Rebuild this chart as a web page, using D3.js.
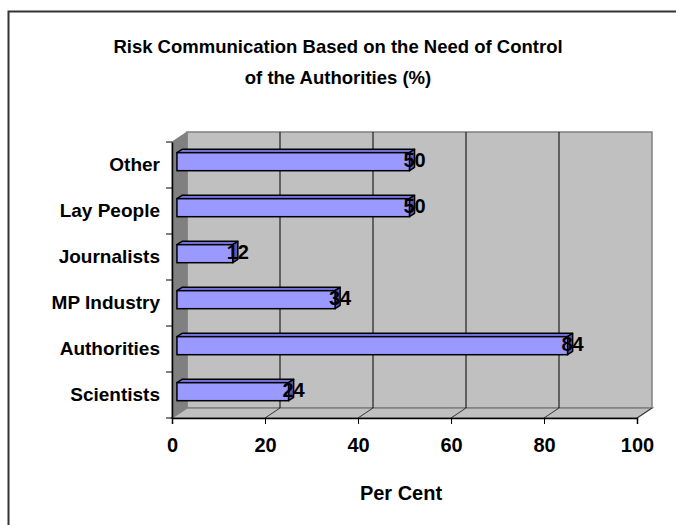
<!DOCTYPE html>
<html>
<head>
<meta charset="utf-8">
<script src="https://cdn.jsdelivr.net/npm/d3@7"></script>
<style>
  body { margin: 0; background: #fff; }
  text { font-family: Arial, "Liberation Sans", sans-serif; font-weight: bold; fill: #000; }
</style>
</head>
<body>
<div id="chart"></div>
<script>
// data
const categories = ["Scientists", "Authorities", "MP Industry", "Journalists", "Lay People", "Other"];
const values = [24, 84, 34, 12, 50, 50];
const xTicks = [0, 20, 40, 60, 80, 100];
const titleLines = ["Risk Communication Based on the Need of Control", "of the Authorities (%)"];
const xTitle = "Per Cent";

const width = 676, height = 525;
// 3d depth offset
const depth = { dx: 15, dy: -10 };
const font = "Arial, 'Liberation Sans', sans-serif";

const svg = d3.select("#chart").append("svg")
  .attr("width", width)
  .attr("height", height);

// outer frame
svg.append("path")
  .attr("d", `M8.5,${height} V11.5 H${width}`)
  .attr("fill", "none")
  .attr("stroke", "#333")
  .attr("stroke-width", 2);

const x = d3.scaleLinear().domain([0, 100]).range([172, 637]);
const y = d3.scaleBand().domain(categories.slice().reverse()).range([142, 418]).padding(0);

const x0 = x(0), x1 = x(100), yTop = y.range()[0], yBot = y.range()[1];
const dx = depth.dx, dy = depth.dy;

// back wall
svg.append("rect")
  .attr("x", x0 + dx).attr("y", yTop + dy)
  .attr("width", x1 - x0).attr("height", yBot - yTop)
  .attr("fill", "#c0c0c0").attr("stroke", "#808080").attr("stroke-width", 1.5);

// left wall
svg.append("polygon")
  .attr("points", [[x0, yTop], [x0 + dx, yTop + dy], [x0 + dx, yBot + dy], [x0, yBot]].join(" "))
  .attr("fill", "#808080").attr("stroke", "#808080");

// floor
svg.append("polygon")
  .attr("points", [[x0, yBot], [x0 + dx, yBot + dy], [x1 + dx, yBot + dy], [x1, yBot]].join(" "))
  .attr("fill", "#c0c0c0").attr("stroke", "#808080").attr("stroke-width", 1.5);

// gridlines on the back wall and the floor
const inner = xTicks.filter(d => d > 0 && d < 100);
svg.append("g").selectAll("line")
  .data(inner).join("line")
  .attr("x1", d => x(d) + dx).attr("x2", d => x(d) + dx)
  .attr("y1", yTop + dy).attr("y2", yBot + dy)
  .attr("stroke", "#000").attr("stroke-width", 1);
svg.append("g").selectAll("line")
  .data(xTicks.filter(d => d > 0)).join("line")
  .attr("x1", d => x(d)).attr("x2", d => x(d) + dx)
  .attr("y1", yBot).attr("y2", yBot + dy)
  .attr("stroke", "#333").attr("stroke-width", 1);

// axes
const xAxis = svg.append("g")
  .attr("transform", `translate(0,${yBot})`)
  .call(d3.axisBottom(x).tickValues(xTicks).tickSize(6).tickPadding(14));
xAxis.select(".domain").attr("stroke", "#000").attr("stroke-width", 1.5);
xAxis.selectAll(".tick line").attr("stroke", "#000");
xAxis.selectAll(".tick text")
  .attr("font-size", 20).attr("font-family", font).attr("font-weight", "bold");

const yAxis = svg.append("g")
  .attr("transform", `translate(${x0},0)`)
  .call(d3.axisLeft(y).tickSize(0).tickPadding(12));
yAxis.select(".domain").attr("stroke", "#000").attr("stroke-width", 1.5);
yAxis.selectAll(".tick text")
  .attr("font-size", 19).attr("font-family", font).attr("font-weight", "bold");
// category ticks sit on the band boundaries
svg.append("g").selectAll("line")
  .data(categories).join("line")
  .attr("x1", x0 - 6).attr("x2", x0)
  .attr("y1", d => y(d)).attr("y2", d => y(d))
  .attr("stroke", "#000");
svg.append("line")
  .attr("x1", x0 - 6).attr("x2", x0)
  .attr("y1", yBot).attr("y2", yBot)
  .attr("stroke", "#000");

// 3d bars
const f0 = 0.33, f1 = 0.67; // bar depth position
const barH = 18;
const bars = svg.append("g").selectAll("g.bar")
  .data(categories.map((c, i) => ({ c, v: values[i] })))
  .join("g").attr("class", "bar");

bars.each(function(d) {
  const g = d3.select(this);
  const cy = y(d.c) + y.bandwidth() / 2;
  const ox = dx * f0, oy = dy * f0;
  const bx = dx * (f1 - f0), by = dy * (f1 - f0);
  const left = x0 + ox, right = x(d.v) + ox;
  const top = cy + oy - barH / 2, bot = cy + oy + barH / 2;
  // top face
  g.append("polygon")
    .attr("points", [[left, top], [left + bx, top + by], [right + bx, top + by], [right, top]].join(" "))
    .attr("fill", "#7373d9").attr("stroke", "#000").attr("stroke-width", 1.5).attr("stroke-linejoin", "round");
  // side face
  g.append("polygon")
    .attr("points", [[right, top], [right + bx, top + by], [right + bx, bot + by], [right, bot]].join(" "))
    .attr("fill", "#5959b3").attr("stroke", "#000").attr("stroke-width", 1.5).attr("stroke-linejoin", "round");
  // front face
  g.append("rect")
    .attr("x", left).attr("y", top)
    .attr("width", right - left).attr("height", barH)
    .attr("fill", "#9999ff").attr("stroke", "#000").attr("stroke-width", 1.5);
});

// value labels
svg.append("g").selectAll("text")
  .data(categories.map((c, i) => ({ c, v: values[i] })))
  .join("text")
  .attr("x", d => x(d.v) + 10)
  .attr("y", d => y(d.c) + y.bandwidth() / 2 - 5)
  .attr("text-anchor", "middle")
  .attr("dominant-baseline", "central")
  .attr("font-size", 20)
  .text(d => d.v);

// titles
svg.append("g").selectAll("text")
  .data(titleLines).join("text")
  .attr("x", 338)
  .attr("y", (d, i) => 53 + i * 31)
  .attr("text-anchor", "middle")
  .attr("font-size", 18.5)
  .text(d => d);

svg.append("text")
  .attr("x", 401)
  .attr("y", 500)
  .attr("text-anchor", "middle")
  .attr("font-size", 20)
  .text(xTitle);
</script>
</body>
</html>
